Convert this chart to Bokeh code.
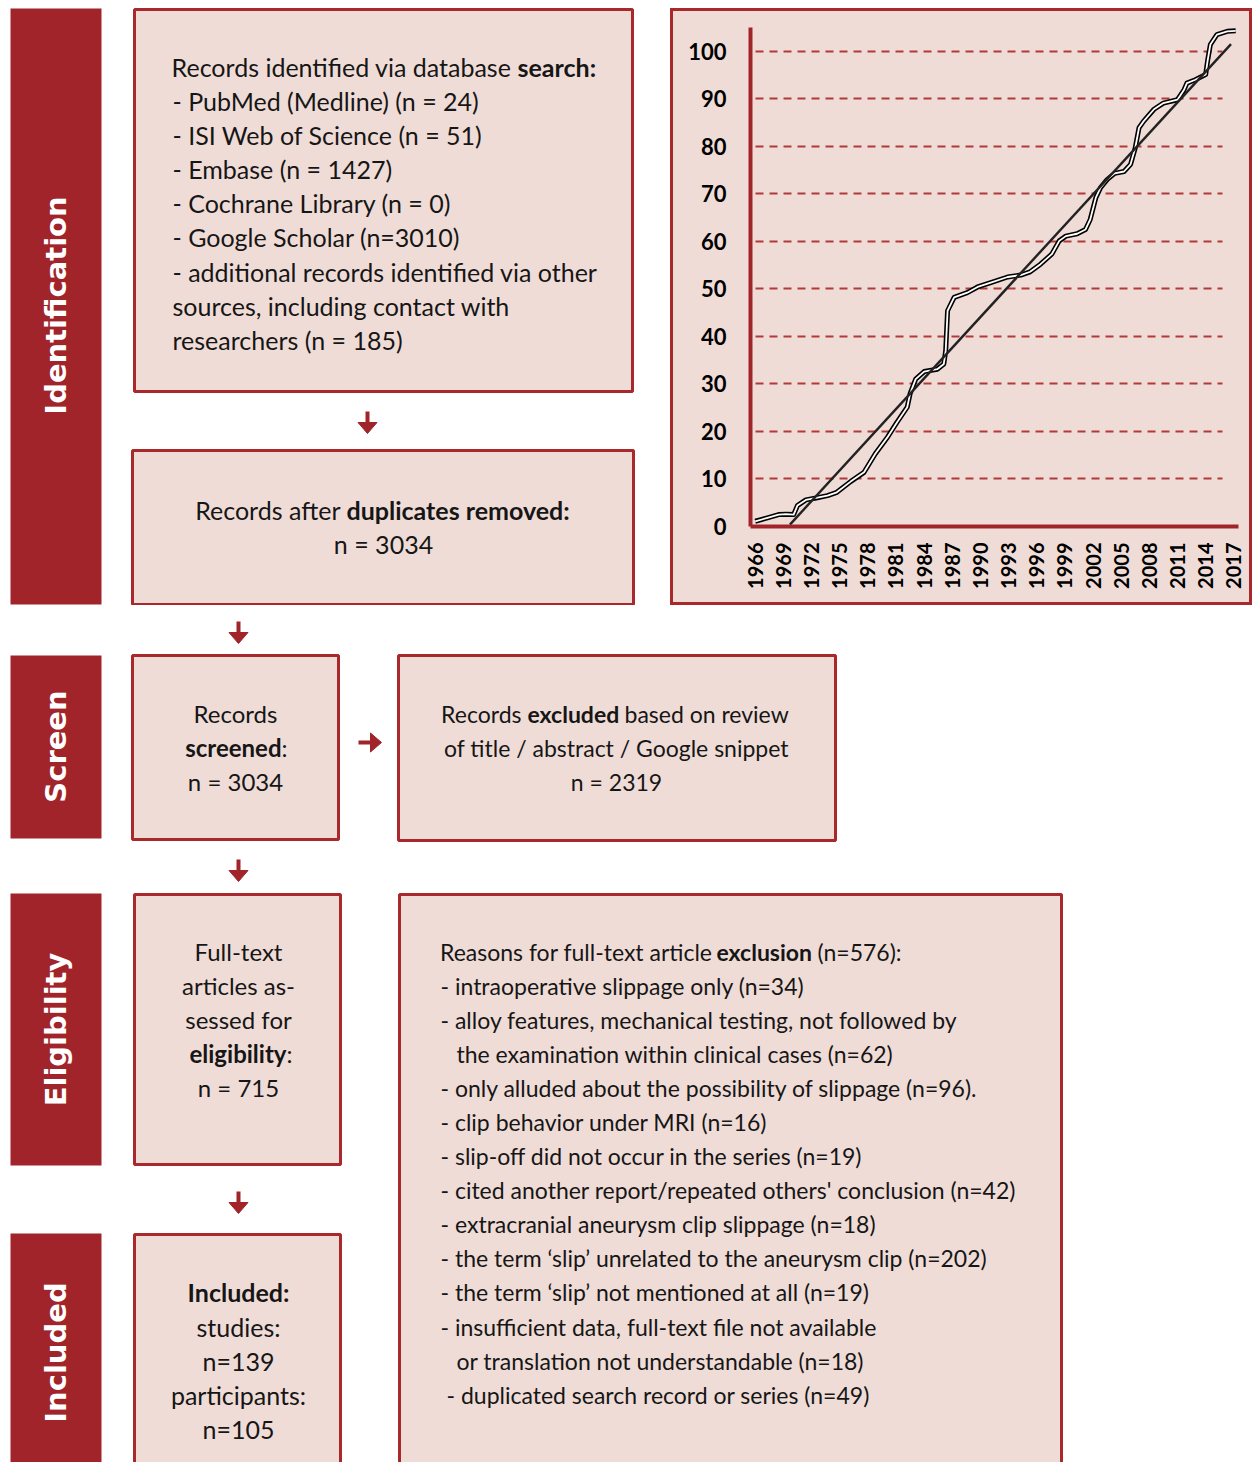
import math
from bokeh.plotting import figure
from bokeh.layouts import column, row
from bokeh.models import Range1d, FixedTicker
from bokeh.core.properties import value
from bokeh.embed import file_html
from bokeh.resources import INLINE

# ---------------- chart data ----------------
curve_year = [1966.0, 1967.3, 1968.5, 1969.3, 1970.1, 1970.5, 1971.4, 1972.5, 1973.7, 1974.7,
              1976.2, 1977.6, 1978.8, 1980.1, 1981.1, 1982.2, 1982.5, 1983.1, 1984.0, 1985.4,
              1986.1, 1986.3, 1986.5, 1987.2, 1988.6, 1989.7, 1991.1, 1992.9, 1994.3, 1995.3,
              1996.4, 1997.6, 1998.4, 1999.1, 2000.3, 2001.2, 2001.7, 2002.3, 2002.8, 2003.5,
              2004.3, 2005.3, 2006.0, 2006.5, 2006.9, 2007.4, 2008.5, 2009.5, 2011.0, 2011.7,
              2012.0, 2012.9, 2014.0, 2014.2, 2014.5, 2015.2, 2016.3, 2017.2]
curve_pct = [1.1, 1.8, 2.5, 2.6, 2.5, 4.4, 5.6, 6.0, 6.5, 7.2,
             9.5, 11.4, 15.3, 18.8, 21.9, 25.1, 27.9, 31.0, 32.6, 33.1,
             34.2, 37.0, 45.4, 48.2, 49.2, 50.4, 51.3, 52.5, 52.9, 53.6,
             55.2, 57.3, 60.1, 61.1, 61.6, 62.5, 64.6, 69.2, 71.3, 73.0,
             74.3, 74.7, 76.2, 79.7, 83.9, 85.3, 87.8, 89.1, 89.8, 91.9,
             93.3, 94.0, 95.1, 97.9, 101.4, 103.5, 104.2, 104.3]
trend_year = [1969.7, 2016.7]
trend_pct = [0.4, 101.5]
year_ticks = [1966, 1969, 1972, 1975, 1978, 1981, 1984, 1987, 1990, 1993,
              1996, 1999, 2002, 2005, 2008, 2011, 2014, 2017]
pct_ticks = [0, 10, 20, 30, 40, 50, 60, 70, 80, 90, 100]

# ---------------- flowchart texts ----------------
stage_labels = ["Identification", "Screen", "Eligibility", "Included"]
search_lines = ["- PubMed (Medline) (n = 24)", "- ISI Web of Science (n = 51)",
                "- Embase (n = 1427)", "- Cochrane Library (n = 0)",
                "- Google Scholar (n=3010)", "- additional records identified via other",
                "sources, including contact with", "researchers (n = 185)"]
reason_lines = ["- intraoperative slippage only (n=34)",
                "- alloy features, mechanical testing, not followed by",
                "the examination within clinical cases (n=62)",
                "- only alluded about the possibility of slippage (n=96).",
                "- clip behavior under MRI (n=16)",
                "- slip-off did not occur in the series (n=19)",
                "- cited another report/repeated others' conclusion (n=42)",
                "- extracranial aneurysm clip slippage (n=18)",
                "- the term \u2018slip\u2019 unrelated to the aneurysm clip (n=202)",
                "- the term \u2018slip\u2019 not mentioned at all (n=19)",
                "- insufficient data, full-text file not available",
                "or translation not understandable (n=18)",
                "- duplicated search record or series (n=49)"]
reason_indent = [0, 0, 16, 0, 0, 0, 0, 0, 0, 0, 0, 16, 6]

RED = "#a0242a"
BORDER = "#a8282c"
PINK = "#f0dcd6"
TXT = "#161616"
FONT = "Lato"
DY = -2  # small vertical nudge for Lato's middle baseline


def no_align(f):
    try:
        f.frame_align = False
    except Exception:
        pass


def canvas(w, h, x0, y0):
    p = figure(width=w, height=h, x_range=Range1d(x0, x0 + w), y_range=Range1d(y0 + h, y0),
               output_backend="svg", toolbar_location=None, min_border=0,
               x_axis_location=None, y_axis_location=None)
    p.xgrid.visible = False
    p.ygrid.visible = False
    p.outline_line_color = None
    p.background_fill_color = "white"
    p.border_fill_color = "white"
    no_align(p)
    return p


def txt(p, x, y, s, align="left", bold=False, size="24px", font=FONT, color=TXT, angle=0.0):
    p.text(x=[x], y=[y + DY], text=[s], text_align=align, text_baseline="middle",
           text_font=value(font), text_font_size=size,
           text_font_style="bold" if bold else "normal", text_color=color, angle=angle)


def box(p, l, r, t, b):
    p.quad(left=[l], right=[r], top=[t], bottom=[b], fill_color=PINK,
           line_color=BORDER, line_width=3)


def bar(p, t, b, label, yc):
    p.quad(left=[10], right=[101], top=[t], bottom=[b], fill_color=RED, line_color=None)
    txt(p, 55, yc - DY, label, align="center", bold=True, size="29px",
        font="DejaVu Sans", color="white", angle=math.pi / 2)


def arrow_down(p, x, y0, y1, head_len=11, half_w=9.5):
    p.segment(x0=[x], y0=[y0], x1=[x], y1=[y1 - head_len + 1], line_color=RED, line_width=4)
    p.patch(x=[x - half_w, x + half_w, x], y=[y1 - head_len, y1 - head_len, y1],
            fill_color=RED, line_color=RED, line_width=1)


def arrow_right(p, y, x0, x1, head_len=11, half_w=9.5):
    p.segment(x0=[x0], y0=[y], x1=[x1 - head_len + 1], y1=[y], line_color=RED, line_width=4)
    p.patch(x=[x1 - head_len, x1 - head_len, x1], y=[y - half_w, y + half_w, y],
            fill_color=RED, line_color=RED, line_width=1)


# ---------------- top-left part ----------------
pt = canvas(670, 605, 0, 0)
bar(pt, 8, 604, stage_labels[0], 305)
box(pt, 134, 632, 9, 391)
txt(pt, 511, 68, "Records identified via database", align="right", size="25px")
txt(pt, 517, 68, "search:", bold=True, size="25px")
for i, s in enumerate(search_lines):
    txt(pt, 172, 102 + i * 34.2, s, size="25px")
arrow_down(pt, 367, 411, 433)
box(pt, 132, 633, 450, 604)
txt(pt, 340, 511, "Records after", align="right", size="25px")
txt(pt, 346, 511, "duplicates removed:", bold=True, size="25px")
txt(pt, 383, 545, "n = 3034", align="center", size="25px")

# ---------------- chart ----------------
pc = figure(width=582, height=597, x_range=Range1d(1965.5, 2017.5), y_range=Range1d(0, 105),
            output_backend="svg", toolbar_location=None,
            min_border_left=80, min_border_right=14, min_border_top=19, min_border_bottom=79)
no_align(pc)
pc.margin = (8, 0, 0, 0)
pc.background_fill_color = PINK
pc.border_fill_color = None
pc.styles = {"background-color": PINK,
             "box-shadow": "inset 0 0 0 3px " + BORDER,
             "outline": "3px solid " + BORDER, "outline-offset": "-3px"}
pc.outline_line_color = None
pc.xgrid.visible = False
pc.ygrid.ticker = FixedTicker(ticks=pct_ticks)
pc.ygrid.grid_line_color = "#b03a3a"
pc.ygrid.grid_line_width = 2
pc.ygrid.grid_line_dash = "8 6"
try:
    pc.ygrid.cross_bounds = (1966.0, 2015.8)
except Exception:
    pass
pc.xaxis.ticker = FixedTicker(ticks=year_ticks)
pc.yaxis.ticker = FixedTicker(ticks=pct_ticks)
pc.xaxis.major_label_orientation = math.pi / 2
for ax in (pc.xaxis, pc.yaxis):
    ax.axis_line_color = RED
    ax.axis_line_width = 4
    ax.major_tick_line_color = None
    ax.minor_tick_line_color = None
    ax.major_label_text_font = FONT
    ax.major_label_text_font_style = "bold"
    ax.major_label_text_color = "black"
pc.xaxis.major_label_text_font_size = "20px"
pc.yaxis.major_label_text_font_size = "22px"
pc.xaxis.major_label_standoff = 10
pc.yaxis.major_label_standoff = 18

pc.line(curve_year, curve_pct, line_color="black", line_width=5, line_join="round")
pc.line(curve_year, curve_pct, line_color="white", line_width=1.8, line_join="round")
pc.line(trend_year, trend_pct, line_color="#222222", line_width=2.4)

# ---------------- bottom part ----------------
pb = canvas(1252, 857, 0, 605)
arrow_down(pb, 238, 621, 643)
bar(pb, 655, 838, stage_labels[1], 746)
box(pb, 132, 338, 655, 839)
txt(pb, 235, 715, "Records", align="center")
txt(pb, 281, 749, "screened", align="right", bold=True)
txt(pb, 281, 749, ":")
txt(pb, 235, 783, "n = 3034", align="center")
arrow_right(pb, 742, 358, 381)
box(pb, 398, 835, 655, 840)
txt(pb, 521, 715, "Records", align="right", size="23px")
txt(pb, 527, 715, "excluded", bold=True, size="23px")
txt(pb, 624, 715, "based on review", size="23px")
txt(pb, 616, 749, "of title / abstract / Google snippet", align="center", size="23px")
txt(pb, 616, 783, "n = 2319", align="center", size="23px")
arrow_down(pb, 238, 859, 881)

bar(pb, 893, 1165, stage_labels[2], 1029)
box(pb, 134, 340, 894, 1164)
txt(pb, 238, 953, "Full-text", align="center")
txt(pb, 238, 987, "articles as-", align="center")
txt(pb, 238, 1021, "sessed for", align="center")
txt(pb, 286, 1055, "eligibility", align="right", bold=True)
txt(pb, 286, 1055, ":")
txt(pb, 238, 1089, "n = 715", align="center")

box(pb, 399, 1061, 894, 1480)
txt(pb, 712, 953, "Reasons for full-text article", align="right", size="23px")
txt(pb, 716, 953, "exclusion", bold=True, size="23px")
txt(pb, 817, 953, "(n=576):", size="23px")
for i, s in enumerate(reason_lines):
    txt(pb, 440 + reason_indent[i], 987 + i * 34.1, s, size="23px")

arrow_down(pb, 238, 1191, 1213)
bar(pb, 1233, 1480, stage_labels[3], 1352)
box(pb, 134, 340, 1234, 1480)
txt(pb, 238, 1293, "Included:", align="center", bold=True, size="25px")
txt(pb, 238, 1328, "studies:", align="center", size="25px")
txt(pb, 238, 1362, "n=139", align="center", size="25px")
txt(pb, 238, 1396, "participants:", align="center", size="25px")
txt(pb, 238, 1430, "n=105", align="center", size="25px")

layout = column(row(pt, pc), pb)
open("out.html", "w").write(file_html(layout, INLINE))
